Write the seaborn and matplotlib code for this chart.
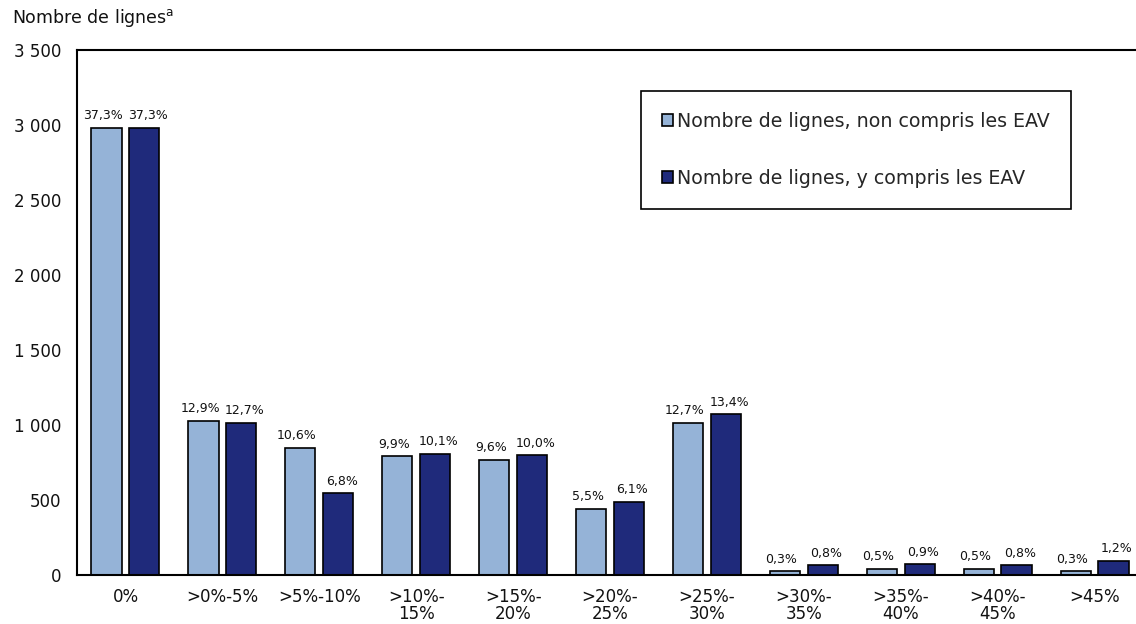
import matplotlib
matplotlib.use("Agg")
import matplotlib.pyplot as plt
import seaborn as sns
import pandas as pd
import numpy as np
from matplotlib.ticker import FixedLocator, FuncFormatter

# ---- data ----
categories = ["0%", ">0%-5%", ">5%-10%", ">10%-\n15%", ">15%-\n20%", ">20%-\n25%",
              ">25%-\n30%", ">30%-\n35%", ">35%-\n40%", ">40%-\n45%", ">45%"]
series_names = ["Nombre de lignes, non compris les EAV",
                "Nombre de lignes, y compris les EAV"]
counts_excl = [2980, 1030, 847, 791, 767, 440, 1015, 24, 40, 40, 24]
counts_incl = [2980, 1015, 545, 807, 799, 487, 1071, 64, 72, 64, 96]
pct_excl = ["37,3%", "12,9%", "10,6%", "9,9%", "9,6%", "5,5%", "12,7%", "0,3%", "0,5%", "0,5%", "0,3%"]
pct_incl = ["37,3%", "12,7%", "6,8%", "10,1%", "10,0%", "6,1%", "13,4%", "0,8%", "0,9%", "0,8%", "1,2%"]
y_ticks = [0, 500, 1000, 1500, 2000, 2500, 3000, 3500]

colors = ["#95B3D7", "#1F2A7B"]

df = pd.DataFrame({
    "Catégorie": categories * 2,
    "Série": [series_names[0]] * len(categories) + [series_names[1]] * len(categories),
    "Valeur": counts_excl + counts_incl,
})

sns.set_style("white")
plt.rcParams["font.family"] = ["DejaVu Sans"]

fig = plt.figure(figsize=(11.36, 6.24), dpi=100)
ax = fig.add_axes([77 / 1136, 1 - 575 / 624, 1066 / 1136, 525 / 624])

sns.barplot(data=df, x="Catégorie", y="Valeur", hue="Série", order=categories,
            hue_order=series_names, palette=colors, width=0.78, gap=0.2, saturation=1,
            edgecolor="black", linewidth=1.2, ax=ax, legend=True)

# bar labels
for container, labels, dx in zip(ax.containers, [pct_excl, pct_incl], [-2.5, 2.5]):
    for patch, lab in zip(container.patches, labels):
        x = patch.get_x() + patch.get_width() / 2
        y = patch.get_height()
        ax.annotate(lab, (x, y), xytext=(dx, 4), textcoords="offset points",
                    ha="center", va="bottom", fontsize=9, color="#111111")

ax.set_xlim(-0.5, len(categories) - 0.5)
ax.set_ylim(0, 3500)
ax.set_yticks(y_ticks)
ax.yaxis.set_major_formatter(FuncFormatter(lambda v, p: f"{int(v):,}".replace(",", " ")))
ax.set_xlabel("")
ax.set_ylabel("")

# x ticks: labels at centres, marks at boundaries
ax.tick_params(axis="x", which="major", length=0, pad=9, labelsize=12, colors="#111111")
ax.xaxis.set_minor_locator(FixedLocator(np.arange(-0.5, len(categories), 1.0)))
ax.tick_params(axis="x", which="minor", length=6, width=1.2, direction="out", color="black")
ax.tick_params(axis="y", which="major", length=5, width=1.2, direction="out", pad=6,
               labelsize=12, color="black", labelcolor="#111111")
for lab in ax.get_xticklabels():
    lab.set_linespacing(0.95)
    lab.set_va("top")

for s in ["left", "top", "bottom", "right"]:
    ax.spines[s].set_visible(True)
    ax.spines[s].set_color("black")
    ax.spines[s].set_linewidth(1.5)

# legend
handles, labels = ax.get_legend_handles_labels()
ax.legend(handles, labels, loc="upper left", bbox_to_anchor=(641 / 1136, 1 - 91 / 624),
          bbox_transform=fig.transFigure, frameon=True, fancybox=False, framealpha=1,
          edgecolor="black", fontsize=13.7, handlelength=0.6, handleheight=0.6,
          handletextpad=0.2, labelspacing=2.0, borderpad=1.1, borderaxespad=0, title=None)
ax.get_legend().get_frame().set_linewidth(1.2)

fig.text(12 / 1136, 1 - 18 / 624, "Nombre de lignes$^{\\mathrm{a}}$", fontsize=12.5,
         ha="left", va="center", color="#111111")

fig.savefig("out.png", dpi=100)
